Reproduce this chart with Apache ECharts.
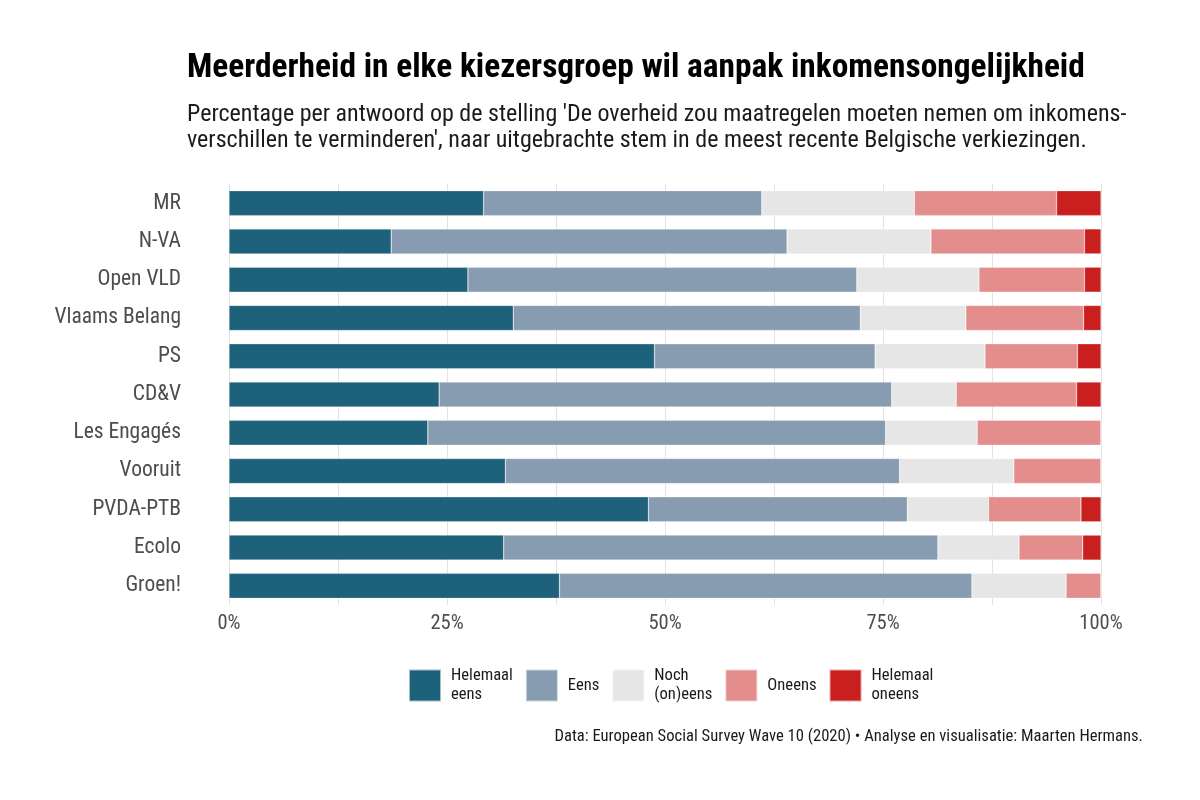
<!DOCTYPE html>
<html><head><meta charset="utf-8">
<script src="https://cdn.jsdelivr.net/npm/echarts@6/dist/echarts.min.js"></script>
<style>html,body{margin:0;background:#fff}#chart{width:1200px;height:800px}</style>
</head><body><div id="chart"></div>
<script>
// ESS wave 10 — akkoord met herverdeling, per partij (aandelen in %)
const parties = ['MR','N-VA','Open VLD','Vlaams Belang','PS','CD&V','Les Engagés','Vooruit','PVDA-PTB','Ecolo','Groen!'];
const helemaalEens   = [29.2, 18.6, 27.4, 32.6, 48.8, 24.1, 22.8, 31.7, 48.1, 31.5, 37.9];
const eens           = [31.9, 45.4, 44.6, 39.8, 25.3, 51.9, 52.5, 45.2, 29.7, 49.8, 47.3];
const nochOneens     = [17.5, 16.5, 14.0, 12.1, 12.6,  7.4, 10.5, 13.1,  9.3,  9.3, 10.8];
const oneens         = [16.3, 17.6, 12.1, 13.5, 10.6, 13.8, 14.2, 10.0, 10.6,  7.3,  4.0];
const helemaalOneens = [ 5.1,  1.9,  1.9,  2.0,  2.7,  2.8,  0.0,  0.0,  2.3,  2.1,  0.0];
const answers = ['Helemaal eens','Eens','Noch (on)eens','Oneens','Helemaal oneens'];
const legendLabels = ['Helemaal\neens','Eens','Noch\n(on)eens','Oneens','Helemaal\noneens'];
const xTicks = [0, 25, 50, 75, 100];

const FONT = 'Roboto Condensed';
const COL = ['#1d617a','#879cb0','#e6e6e6','#e38d8d','#c91f1f'];
const values = [helemaalEens, eens, nochOneens, oneens, helemaalOneens];

const chart = echarts.init(document.getElementById('chart'), null, {renderer:'canvas'});
chart.setOption({
  animation:false,
  color: COL,
  textStyle:{fontFamily:FONT},
  title:[
    {text:'Meerderheid in elke kiezersgroep wil aanpak inkomensongelijkheid', left:187, top:52, padding:0,
      textStyle:{fontFamily:FONT, fontSize:33.4, fontWeight:'bold', color:'#000'}},
    {text:"Percentage per antwoord op de stelling 'De overheid zou maatregelen moeten nemen om inkomens-\nverschillen te verminderen', naar uitgebrachte stem in de meest recente Belgische verkiezingen.",
      left:187, top:102, padding:0,
      textStyle:{fontFamily:FONT, fontSize:24, fontWeight:'normal', color:'#1a1a1a', lineHeight:26}}
  ],
  grid:{left:229, right:99, top:184, height:421, containLabel:false},
  xAxis:{type:'value', min:0, max:100, interval:12.5,
    axisLine:{show:false}, axisTick:{show:false},
    splitLine:{lineStyle:{color:'#e3e3e3', width:1}},
    axisLabel:{fontFamily:FONT, fontSize:20.5, color:'#4d4d4d', margin:8,
      formatter: v => xTicks.includes(v) ? v + '%' : ''}},
  yAxis:{type:'category', data:parties, inverse:true,
    axisLine:{show:false}, axisTick:{show:false}, splitLine:{show:false},
    axisLabel:{fontFamily:FONT, fontSize:21.5, color:'#4d4d4d', margin:48}},
  legend:{left:408, top:667, padding:0, orient:'horizontal', icon:'rect', itemWidth:32, itemHeight:32, itemGap:12,
    data:answers,
    formatter: n => legendLabels[answers.indexOf(n)],
    textStyle:{fontFamily:FONT, fontSize:16.6, lineHeight:18.5, color:'#1a1a1a', padding:[0,0,0,5]}},
  graphic:[{type:'text', right:57, top:728,
    style:{text:'Data: European Social Survey Wave 10 (2020) • Analyse en visualisatie: Maarten Hermans.',
      font:'16.6px "' + FONT + '"', fill:'#1a1a1a'}}],
  series: answers.map((a, i) => ({
    name:a, type:'bar', stack:'tot', barWidth:25, data:values[i],
    itemStyle:{color:COL[i], borderColor:'rgba(255,255,255,0.6)', borderWidth:0.5}
  }))
});
</script></body></html>
